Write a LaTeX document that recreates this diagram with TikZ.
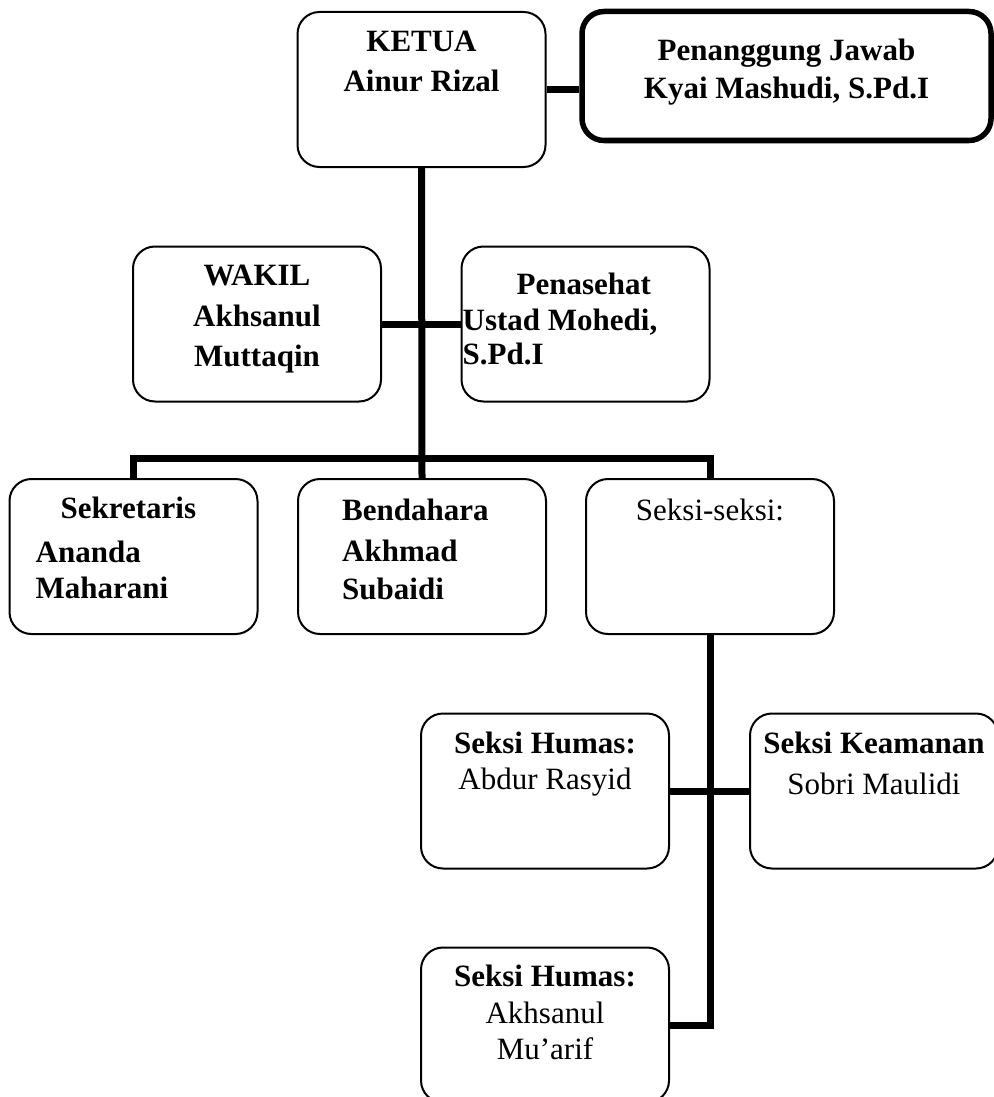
\documentclass[tikz,border=0pt]{standalone}
\usepackage{fontspec}
\setmainfont{Liberation Serif}
\usepackage{tikz}
\usetikzlibrary{positioning}

\begin{document}
\begin{tikzpicture}[x=1pt, y=-1pt,
        box/.style = {draw, rounded corners=22pt, line width=2pt, minimum width=248pt, minimum height=155pt, inner sep=0pt},
        txt/.style = {inner sep=0pt, align=center, font=\fontsize{31}{38}\selectfont\bfseries},
        conn/.style = {line width=7pt}]
        \useasboundingbox (0,0) rectangle (993,1097);
        % boxes
        \node[box] (ketua) at (421.5,89.5) {};
        \node[box, line width=5.5pt, minimum width=409pt, minimum height=129pt] (pj) at (786.5,76) {};
        \node[box] (wakil) at (257,324) {};
        \node[box] (penasehat) at (585.5,324) {};
        \node[box] (sekretaris) at (133.5,556.5) {};
        \node[box] (bendahara) at (422,556.5) {};
        \node[box] (seksi) at (710,556.5) {};
        \node[box] (humas) at (545,791) {};
        \node[box] (keamanan) at (874,791) {};
        \node[box] (humasdua) at (545,1025) {};
        % texts
        \node[txt, below=20pt of ketua.north] (ketuatxt) {KETUA\\[2pt]Ainur Rizal};
        \node[txt, below=30pt of pj.north] (pjtxt) {Penanggung Jawab\\Kyai Mashudi, S.Pd.I};
        \node[txt, below=19pt of wakil.north] (wakiltxt) {WAKIL\\[3pt]Akhsanul\\[2pt]Muttaqin};
        \node[txt, align=left, below right=27pt and 2pt of penasehat.north west] (penasehattxt) {\hspace*{54pt}Penasehat\\[-2pt]Ustad Mohedi,\\[-4pt]S.Pd.I};
        \node[txt, align=left, below right=19pt and 27pt of sekretaris.north west] (sekretaristxt) {\hspace*{25pt}Sekretaris\\[6pt]Ananda\\[-2pt]Maharani};
        \node[txt, align=left, below right=21pt and 45pt of bendahara.north west] (bendaharatxt) {Bendahara\\[3pt]Akhmad\\Subaidi};
        \node[txt, below=21pt of seksi.north, font=\fontsize{31}{38}\selectfont] (seksitxt) {Seksi-seksi:};
        \node[txt, below=19pt of humas.north] (humastxt) {Seksi Humas:\\[-2pt]\textmd{Abdur Rasyid}};
        \node[txt, below=19pt of keamanan.north] (keamanantxt) {Seksi Keamanan\\[3pt]\textmd{Sobri Maulidi}};
        \node[txt, below=18pt of humasdua.north] (humasduatxt) {Seksi Humas:\\[-1pt]\textmd{Akhsanul}\\[-2pt]\textmd{Mu’arif}};
        % lines
        \coordinate (bus) at (422,458);
        \draw[conn] (ketua.east) -- (ketua.east -| pj.west);
        \draw[conn] (ketua.south) -- (bendahara.north);
        \draw[conn] (wakil.east) -- (penasehat.west);
        \draw[conn] (sekretaris.north) |- (seksi.north |- bus) -- (seksi.north);
        \draw[conn] (seksi.south) |- (humasdua.east);
        \draw[conn] (humas.east) -- (keamanan.west);
\end{tikzpicture}
\end{document}
